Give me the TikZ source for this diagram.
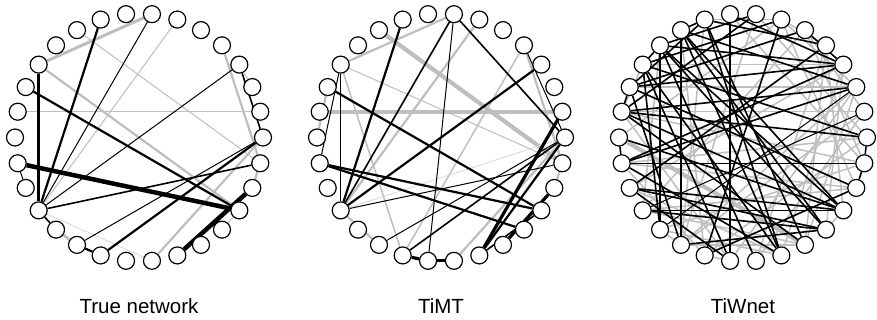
\documentclass[tikz,border=0pt]{standalone}
\usepackage{fontspec}
\setmainfont{Liberation Sans}
\usetikzlibrary{backgrounds}
\definecolor{eg}{RGB}{190,190,190}
\definecolor{el}{RGB}{218,218,218}
\begin{document}
\begin{tikzpicture}[x=1pt,y=1pt,
  vtx/.style={circle,draw=black,fill=white,line width=1.2pt,minimum size=17pt,inner sep=0pt},
  lbl/.style={font=\fontsize{20.5}{24}\selectfont,inner sep=0pt,anchor=base},
  L1/.style={draw=el,line width=0.9pt},
  G1/.style={draw=eg,line width=1pt},
  G2/.style={draw=eg,line width=1.5pt},
  G3/.style={draw=eg,line width=2.2pt},
  G4/.style={draw=eg,line width=3pt},
  G5/.style={draw=eg,line width=4.2pt},
  K1/.style={draw=black,line width=1pt},
  K2/.style={draw=black,line width=1.6pt},
  K3/.style={draw=black,line width=2.2pt},
  K4/.style={draw=black,line width=3.2pt},
  K5/.style={draw=black,line width=4.5pt}]
\useasboundingbox (0,0) rectangle (877,320);
\foreach \p/\cx in {a/139,b/441,c/743}{
  \foreach \k in {0,...,29}{
    \node[vtx] (\p\k) at ({\cx+124*cos(12*\k)},{182.5+124*sin(12*\k)}) {};
  }
}
\begin{pgfonlayer}{background}
% True network
\foreach \u/\v/\s in {12/7/G4,6/18/G1,10/29/G1,12/27/G3,14/1/G1,4/29/G3,3/2/G1,0/23/G3,
  28/29/G3,26/27/G1,18/23/L1,19/20/G4,
  9/18/K3,7/18/K1,13/27/K3,3/18/K1,16/27/K5,12/18/K4,16/17/K1,18/29/K2,20/0/K1,
  21/0/K3,3/0/K2,24/28/K5,18/19/K2,20/21/K3}
  \draw[\s] (a\u) -- (a\v);
% TiMT
\foreach \u/\v/\s in {12/7/G3,6/18/G3,4/21/G2,10/29/G5,14/1/G5,12/21/G2,12/29/G1,18/0/L1,
  23/0/G3,18/20/G3,4/29/G3,28/29/G3,13/15/G3,
  9/18/K3,7/18/K2,7/22/K1,7/0/K2,12/18/K1,12/16/K1,13/27/K3,16/27/K3,16/26/K3,
  18/3/K3,18/29/K1,20/0/K1,21/0/K2,1/24/K4,0/24/K3,28/25/K4,27/24/K2,21/22/K4,
  22/23/K4,4/0/K1}
  \draw[\s] (b\u) -- (b\v);
% TiWnet
\foreach \u/\v/\s in {12/3/G2,13/2/G2,14/1/G2,20/25/G2,7/20/G2,6/15/G2,5/18/G2,4/23/G2,
  3/24/G2,2/22/G2,1/20/G2,0/21/G2,29/19/G2,28/18/G2,5/29/G2,4/27/G2,6/28/G2,7/0/G2,
  3/26/G2,2/25/G2,1/23/G2,0/16/G2,29/14/G2,28/16/G2,9/20/G2,10/21/G2,11/18/G2,8/29/G2,
  5/1/G2,6/2/G2,4/25/G2,14/22/G2,16/21/G2,17/24/G2,18/25/G2,19/24/G2,3/17/G2,2/20/G2,
  19/20/G2,21/22/G2,26/27/G2,12/14/G2,6/9/G2,4/6/G2,15/25/G5}
  \draw[\s] (c\u) -- (c\v);
\foreach \u/\v/\s in {8/22/K2,8/3/K2,10/20/K3,11/19/K2,10/27/K2,10/26/K2,11/27/K2,11/26/K2,
  9/24/K2,9/25/K2,13/3/K2,14/2/K2,17/27/K2,17/26/K2,21/28/K2,12/19/K2,12/24/K2,13/28/K2,
  16/29/K1,18/27/K2,6/21/K2,7/14/K2,2/16/K2,1/18/K1,0/14/K2,11/3/K2,10/2/K2,9/4/K2,
  12/0/K2,14/25/K2,16/24/K2,17/22/K2,6/12/K2,5/13/K2,4/17/K2,11/23/K2,12/22/K2,13/20/K2,
  15/27/K2,20/26/K2,19/2/K1,7/11/K2,9/13/K2,15/16/K2,28/29/K2,0/29/K2,9/10/K2,13/14/K2,
  3/5/K2,11/12/K2,14/27/K2,16/3/K2,18/26/K2,10/24/K2}
  \draw[\s] (c\u) -- (c\v);
\end{pgfonlayer}
\node[lbl] (t1) at (139,6) {True network};
\node[lbl] (t2) at (441,6) {TiMT};
\node[lbl] (t3) at (743,6) {TiWnet};
\end{tikzpicture}
\end{document}
